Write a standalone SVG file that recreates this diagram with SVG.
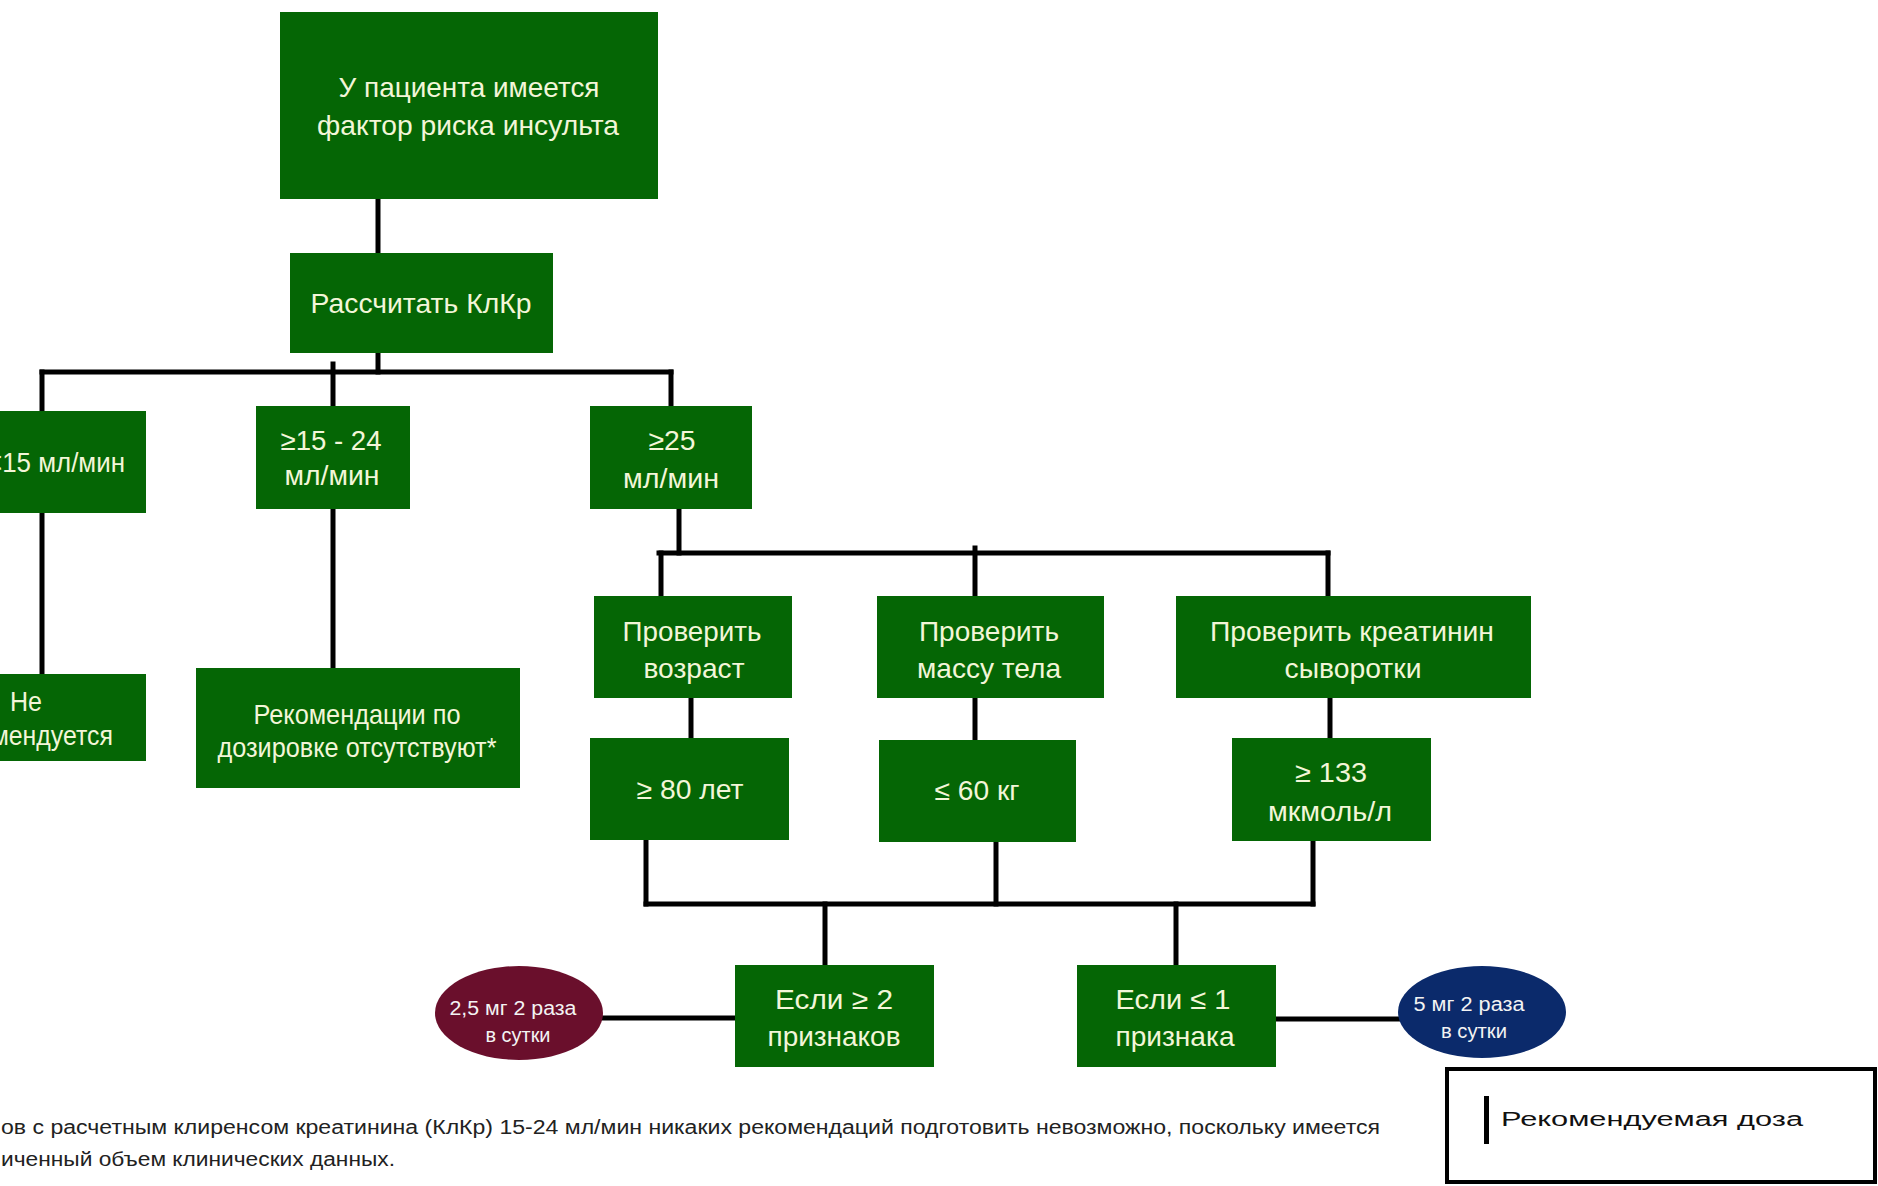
<svg xmlns="http://www.w3.org/2000/svg" width="1878" height="1186" viewBox="0 0 1878 1186">
<style>
.box{fill:#056605;}
.t{font-family:"Liberation Sans",Arial,sans-serif;fill:#f3f6d8;font-size:28px;text-anchor:middle;dominant-baseline:central;}
.e{font-family:"Liberation Sans",Arial,sans-serif;fill:#f3f3f3;font-size:20px;text-anchor:middle;dominant-baseline:central;}
.c{stroke:#000;stroke-width:5;fill:none;stroke-linecap:square;}
.fn{font-family:"Liberation Sans",Arial,sans-serif;fill:#222;font-size:20px;dominant-baseline:central;}
</style>
<rect width="1878" height="1186" fill="#fff"/>
<g id="connectors" class="c">
<line x1="378" y1="199" x2="378" y2="253"/>
<line x1="378" y1="353" x2="378" y2="372"/>
<line x1="42" y1="372" x2="671" y2="372"/>
<line x1="333" y1="364" x2="333" y2="406"/>
<line x1="42" y1="372" x2="42" y2="411"/>
<line x1="42" y1="513" x2="42" y2="674"/>
<line x1="333" y1="509" x2="333" y2="668"/>
<line x1="671" y1="372" x2="671" y2="406"/>
<line x1="679" y1="509" x2="679" y2="553"/>
<line x1="659" y1="553" x2="1328" y2="553"/>
<line x1="661" y1="553" x2="661" y2="596"/>
<line x1="975" y1="548" x2="975" y2="596"/>
<line x1="1328" y1="553" x2="1328" y2="596"/>
<line x1="691" y1="698" x2="691" y2="738"/>
<line x1="975" y1="698" x2="975" y2="740"/>
<line x1="1330" y1="698" x2="1330" y2="738"/>
<line x1="646" y1="840" x2="646" y2="904"/>
<line x1="996" y1="842" x2="996" y2="904"/>
<line x1="1313" y1="841" x2="1313" y2="904"/>
<line x1="646" y1="904" x2="1313" y2="904"/>
<line x1="825" y1="904" x2="825" y2="965"/>
<line x1="1176" y1="904" x2="1176" y2="965"/>
<line x1="603" y1="1018" x2="735" y2="1018"/>
<line x1="1276" y1="1019" x2="1398" y2="1019"/>
</g>
<g id="n-top"><rect class="box" x="280" y="12" width="378" height="187"/>
<text class="t" x="469" y="87" textLength="261" lengthAdjust="spacingAndGlyphs">У пациента имеется</text>
<text class="t" x="468" y="125" textLength="302" lengthAdjust="spacingAndGlyphs">фактор риска инсульта</text></g>
<g id="n-calc"><rect class="box" x="290" y="253" width="263" height="100"/>
<text class="t" x="421" y="303" textLength="221" lengthAdjust="spacingAndGlyphs">Рассчитать КлКр</text></g>
<g id="n-lt15"><rect class="box" x="-80" y="411" width="226" height="102"/>
<text class="t" x="125" y="462" style="text-anchor:end" textLength="138" lengthAdjust="spacingAndGlyphs">&lt;15 мл/мин</text></g>
<g id="n-15-24"><rect class="box" x="256" y="406" width="154" height="103"/>
<text class="t" x="331" y="440" textLength="101" lengthAdjust="spacingAndGlyphs">≥15 - 24</text>
<text class="t" x="332" y="475" textLength="95" lengthAdjust="spacingAndGlyphs">мл/мин</text></g>
<g id="n-ge25"><rect class="box" x="590" y="406" width="162" height="103"/>
<text class="t" x="672" y="440" textLength="47" lengthAdjust="spacingAndGlyphs">≥25</text>
<text class="t" x="671" y="478" textLength="96" lengthAdjust="spacingAndGlyphs">мл/мин</text></g>
<g id="n-ne"><rect class="box" x="-80" y="674" width="226" height="87"/>
<text class="t" x="26" y="701" textLength="32" lengthAdjust="spacingAndGlyphs">Не</text>
<text class="t" x="26" y="735" textLength="174" lengthAdjust="spacingAndGlyphs">рекомендуется</text></g>
<g id="n-recs"><rect class="box" x="196" y="668" width="324" height="120"/>
<text class="t" x="357" y="714" font-size="25" textLength="207" lengthAdjust="spacingAndGlyphs">Рекомендации по</text>
<text class="t" x="357" y="747" font-size="25" textLength="279" lengthAdjust="spacingAndGlyphs">дозировке отсутствуют*</text></g>
<g id="n-age"><rect class="box" x="594" y="596" width="198" height="102"/>
<text class="t" x="692" y="631" textLength="139" lengthAdjust="spacingAndGlyphs">Проверить</text>
<text class="t" x="694" y="668" textLength="101" lengthAdjust="spacingAndGlyphs">возраст</text></g>
<g id="n-mass"><rect class="box" x="877" y="596" width="227" height="102"/>
<text class="t" x="989" y="631" textLength="140" lengthAdjust="spacingAndGlyphs">Проверить</text>
<text class="t" x="989" y="668" textLength="144" lengthAdjust="spacingAndGlyphs">массу тела</text></g>
<g id="n-creat"><rect class="box" x="1176" y="596" width="355" height="102"/>
<text class="t" x="1352" y="631" textLength="284" lengthAdjust="spacingAndGlyphs">Проверить креатинин</text>
<text class="t" x="1353" y="668" textLength="137" lengthAdjust="spacingAndGlyphs">сыворотки</text></g>
<g id="n-ge80"><rect class="box" x="590" y="738" width="199" height="102"/>
<text class="t" x="690" y="789" textLength="107" lengthAdjust="spacingAndGlyphs">≥ 80 лет</text></g>
<g id="n-le60"><rect class="box" x="879" y="740" width="197" height="102"/>
<text class="t" x="977" y="790" textLength="85" lengthAdjust="spacingAndGlyphs">≤ 60 кг</text></g>
<g id="n-ge133"><rect class="box" x="1232" y="738" width="199" height="103"/>
<text class="t" x="1331" y="772" textLength="72" lengthAdjust="spacingAndGlyphs">≥ 133</text>
<text class="t" x="1330" y="811" textLength="124" lengthAdjust="spacingAndGlyphs">мкмоль/л</text></g>
<g id="n-if2"><rect class="box" x="735" y="965" width="199" height="102"/>
<text class="t" x="834" y="999" textLength="118" lengthAdjust="spacingAndGlyphs">Если  ≥ 2</text>
<text class="t" x="834" y="1036" textLength="133" lengthAdjust="spacingAndGlyphs">признаков</text></g>
<g id="n-if1"><rect class="box" x="1077" y="965" width="199" height="102"/>
<text class="t" x="1173" y="999" textLength="115" lengthAdjust="spacingAndGlyphs">Если  ≤ 1</text>
<text class="t" x="1175" y="1036" textLength="119" lengthAdjust="spacingAndGlyphs">признака</text></g>
<g id="n-dose25"><ellipse cx="519" cy="1013" rx="84" ry="47" fill="#6a0f2c"/>
<text class="e" x="513" y="1008" textLength="127" lengthAdjust="spacingAndGlyphs">2,5 мг  2 раза</text>
<text class="e" x="518" y="1035" textLength="65" lengthAdjust="spacingAndGlyphs">в сутки</text></g>
<g id="n-dose5"><ellipse cx="1482" cy="1012" rx="84" ry="46" fill="#0b2a6b"/>
<text class="e" x="1469" y="1004" textLength="111" lengthAdjust="spacingAndGlyphs">5 мг  2 раза</text>
<text class="e" x="1474" y="1031" textLength="66" lengthAdjust="spacingAndGlyphs">в сутки</text></g>
<g id="footnote">
<text class="fn" x="1" y="1127" textLength="1379" lengthAdjust="spacingAndGlyphs">ов с расчетным клиренсом креатинина (КлКр) 15-24 мл/мин никаких рекомендаций подготовить невозможно, поскольку имеется</text>
<text class="fn" x="1" y="1159" textLength="394" lengthAdjust="spacingAndGlyphs">иченный объем клинических данных.</text>
</g>
<g id="legend">
<rect x="1447" y="1069" width="428" height="113" fill="#fff" stroke="#000" stroke-width="4"/>
<rect x="1484" y="1096" width="5" height="48" fill="#000"/>
<text class="fn" x="1501" y="1119" font-size="31" style="fill:#111" textLength="302" lengthAdjust="spacingAndGlyphs">Рекомендуемая доза</text>
</g>
</svg>
